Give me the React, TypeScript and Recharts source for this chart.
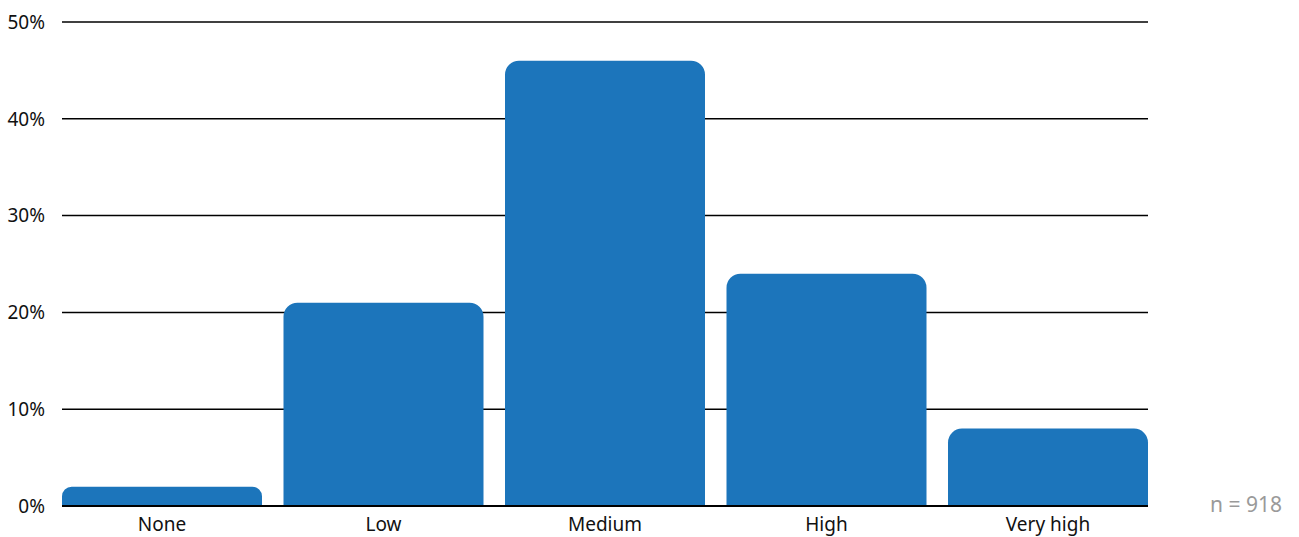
import { Bar, BarChart, CartesianGrid, XAxis, YAxis } from "recharts"

const categories = ["None", "Low", "Medium", "High", "Very high"]
const shares = [2, 21, 46, 24, 8]
const yTicks = [0, 10, 20, 30, 40, 50]
const sampleNote = "n = 918"

const data = categories.map((name, i) => ({ name, share: shares[i] }))

const FONT = "'Noto Sans', 'Open Sans', sans-serif"

export default function App() {
  return (
    <div style={{ position: "absolute", left: 0, top: 0, width: 1299, height: 537, fontFamily: FONT }}>
      <BarChart
        width={1299}
        height={537}
        data={data}
        margin={{ top: 22, right: 151, bottom: 0, left: 0 }}
        barCategoryGap={10.75}
      >
        <CartesianGrid vertical={false} stroke="#000" strokeWidth={1.5} />
        <XAxis
          dataKey="name"
          height={31}
          padding={{ left: -10.75, right: -10.75 }}
          axisLine={{ stroke: "#000", strokeWidth: 2 }}
          tickLine={false}
          tickMargin={6}
          tick={{ fill: "#111", fontSize: 19, fontFamily: FONT }}
          interval={0}
        />
        <YAxis
          width={62}
          domain={[0, 50]}
          ticks={yTicks}
          axisLine={false}
          tickLine={false}
          tickSize={0}
          tickMargin={17}
          tickFormatter={(v) => `${v}%`}
          tick={{ fill: "#111", fontSize: 19, fontFamily: FONT }}
        />
        <Bar dataKey="share" fill="#1c75bb" radius={[14, 14, 0, 0]} isAnimationActive={false} />
      </BarChart>
      <div
        style={{
          position: "absolute",
          left: 1210,
          top: 490,
          fontSize: 21,
          color: "#9a9a9a",
          fontFamily: FONT,
        }}
      >
        {sampleNote}
      </div>
    </div>
  )
}
